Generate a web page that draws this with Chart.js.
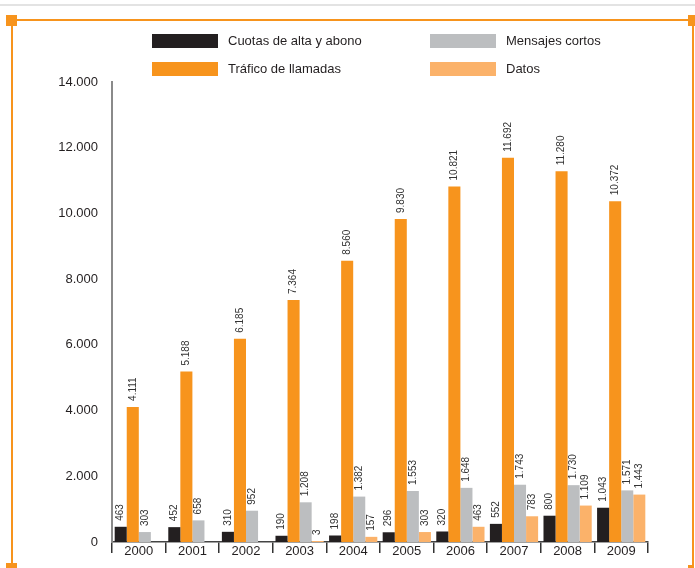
<!DOCTYPE html>
<html lang="es">
<head>
  <meta charset="UTF-8" />
  <title>Ingresos por servicio 2000-2009</title>
  <script src="https://cdn.jsdelivr.net/npm/chart.js@4.4.0/dist/chart.umd.min.js"></script>
  <style>
    html, body {
      margin: 0;
      padding: 0;
      background: #fff;
      font-family: "Liberation Sans", Arial, sans-serif;
    }
    #wrap {
      position: relative;
      width: 695px;
      height: 568px;
      overflow: hidden;
    }
    #wrap canvas {
      position: absolute;
      left: 0;
      top: 0;
    }
    .rule { position: absolute; }
    .legend-item {
      position: absolute;
      height: 14px;
      font-size: 13px;
      color: #231f20;
      line-height: 14px;
      white-space: nowrap;
    }
    .legend-item span.box {
      position: absolute;
      left: 0;
      top: 0;
      width: 66px;
      height: 14px;
    }
    .legend-item span.txt {
      position: absolute;
      left: 76px;
      top: 0;
    }
  </style>
</head>
<body>
  <div id="wrap">
    <!-- page frame -->
    <div class="rule" style="left:0;top:4px;width:695px;height:2px;background:#e3e3e3"></div>
    <div class="rule" style="left:11px;top:19px;width:683px;height:2px;background:#f7941d"></div>
    <div class="rule" style="left:11px;top:20px;width:2px;height:546px;background:#f7941d"></div>
    <div class="rule" style="left:692px;top:20px;width:2px;height:548px;background:#f7941d"></div>
    <div class="rule" style="left:6px;top:15px;width:11px;height:11px;background:#f7941d"></div>
    <div class="rule" style="left:688px;top:15px;width:7px;height:11px;background:#f7941d"></div>
    <div class="rule" style="left:6px;top:563px;width:11px;height:5px;background:#f7941d"></div>
    <div class="rule" style="left:688px;top:565px;width:6px;height:3px;background:#f7941d"></div>

    <canvas id="chart" width="695" height="568"></canvas>
    <div id="legend"></div>
  </div>

  <script>
    const years = ['2000', '2001', '2002', '2003', '2004', '2005', '2006', '2007', '2008', '2009'];
    const cuotas   = [463, 452, 310, 190, 198, 296, 320, 552, 800, 1043];
    const trafico  = [4111, 5188, 6185, 7364, 8560, 9830, 10821, 11692, 11280, 10372];
    const mensajes = [303, 658, 952, 1208, 1382, 1553, 1648, 1743, 1730, 1571];
    const datos    = [null, null, null, 3, 157, 303, 463, 783, 1109, 1443];

    const COLORS = {
      cuotas: '#231f20',
      trafico: '#f7941d',
      mensajes: '#bcbec0',
      datos: '#fbb26a'
    };

    // 12.345 -> "12.345"
    function fmt(v) {
      return String(v).replace(/\B(?=(\d{3})+(?!\d))/g, '.');
    }

    // vertical value labels above every bar
    const barLabels = {
      id: 'barLabels',
      afterDatasetsDraw(chart) {
        const ctx = chart.ctx;
        ctx.save();
        ctx.font = '10px "Liberation Sans", Arial, sans-serif';
        ctx.fillStyle = '#333';
        ctx.textAlign = 'left';
        ctx.textBaseline = 'middle';
        chart.data.datasets.forEach((ds, i) => {
          const meta = chart.getDatasetMeta(i);
          meta.data.forEach((bar, j) => {
            const v = ds.data[j];
            if (v === null || v === undefined) return;
            ctx.save();
            ctx.translate(bar.x, bar.y - 6);
            ctx.rotate(-Math.PI / 2);
            ctx.fillText(fmt(v), 0, 0);
            ctx.restore();
          });
        });
        ctx.restore();
      }
    };

    const chart = new Chart(document.getElementById('chart'), {
      type: 'bar',
      data: {
        labels: years,
        datasets: [
          { label: 'Cuotas de alta y abono', data: cuotas, backgroundColor: COLORS.cuotas },
          { label: 'Tráfico de llamadas', data: trafico, backgroundColor: COLORS.trafico },
          { label: 'Mensajes cortos', data: mensajes, backgroundColor: COLORS.mensajes },
          { label: 'Datos', data: datos, backgroundColor: COLORS.datos, minBarLength: 1 }
        ]
      },
      options: {
        responsive: false,
        animation: false,
        datasets: {
          bar: { categoryPercentage: 0.9, barPercentage: 1.0 }
        },
        layout: {
          padding: { top: 82, right: 47, bottom: 0, left: 0 }
        },
        plugins: {
          legend: { display: false },
          tooltip: { enabled: false }
        },
        scales: {
          x: {
            grid: {
              display: true,
              drawOnChartArea: false,
              offset: true,
              tickLength: 11,
              color: '#333',
              lineWidth: 1.5
            },
            border: { color: '#444', width: 1.5 },
            ticks: {
              color: '#231f20',
              font: { size: 13, family: '"Liberation Sans", Arial, sans-serif' },
              padding: -9,
              maxRotation: 0
            },
            afterFit(scale) { scale.height = 26; }
          },
          y: {
            min: 0,
            max: 14000,
            grid: { display: false, drawTicks: false },
            border: { color: '#8a8a8a', width: 2 },
            ticks: {
              stepSize: 2000,
              color: '#231f20',
              padding: 14,
              font: { size: 13, family: '"Liberation Sans", Arial, sans-serif' },
              callback: v => fmt(v)
            },
            afterFit(scale) { scale.width = 112; }
          }
        }
      },
      plugins: [barLabels]
    });

    // legend in two columns: first row cuotas/mensajes, second row tráfico/datos
    const legendOrder = [0, 2, 1, 3];
    const legendPos = [[152, 34], [430, 34], [152, 62], [430, 62]];
    const legendEl = document.getElementById('legend');
    legendOrder.forEach((idx, k) => {
      const ds = chart.data.datasets[idx];
      const item = document.createElement('div');
      item.className = 'legend-item';
      item.style.left = legendPos[k][0] + 'px';
      item.style.top = legendPos[k][1] + 'px';
      item.innerHTML = '<span class="box" style="background:' + ds.backgroundColor + '"></span>' +
        '<span class="txt">' + ds.label + '</span>';
      legendEl.appendChild(item);
    });
  </script>
</body>
</html>
